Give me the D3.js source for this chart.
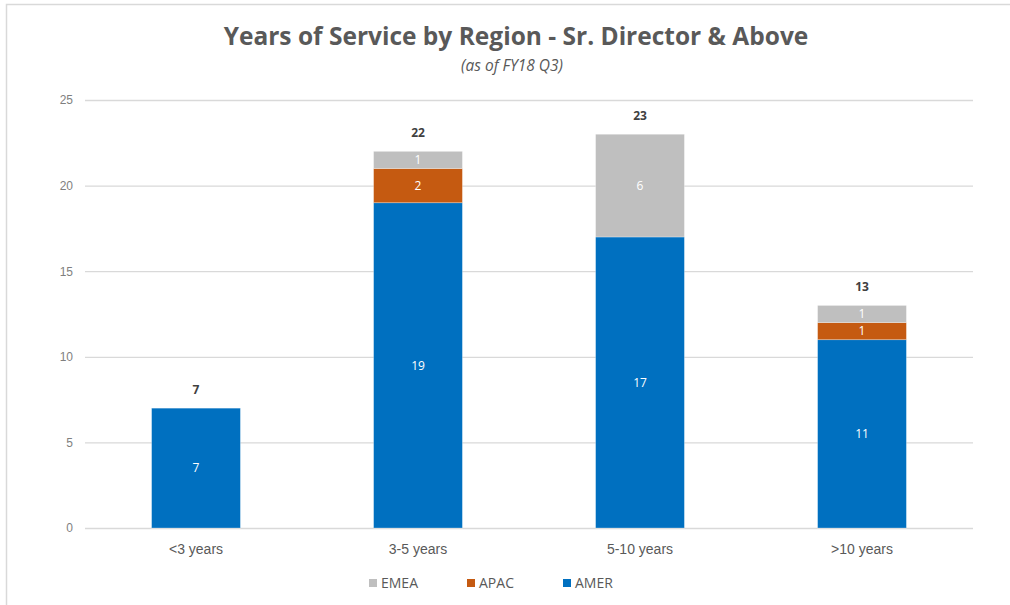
<!DOCTYPE html>
<html>
<head>
<meta charset="utf-8">
<script src="https://cdnjs.cloudflare.com/ajax/libs/d3/7.8.5/d3.min.js"></script>
<style>
  body { margin: 0; background: #fff; }
  svg { font-family: "Open Sans", "Liberation Sans", sans-serif; }
</style>
</head>
<body>
<div id="chart"></div>
<script>
// data
const categories = ["<3 years", "3-5 years", "5-10 years", ">10 years"];
const regions = ["AMER", "APAC", "EMEA"];   // stacking order, bottom to top
const amer = [7, 19, 17, 11];
const apac = [0, 2, 0, 1];
const emea = [0, 1, 6, 1];
const legendOrder = ["EMEA", "APAC", "AMER"];
const yTicks = [0, 5, 10, 15, 20, 25];

const colors = { AMER: "#0070C0", APAC: "#C55A11", EMEA: "#BFBFBF" };

const width = 1010, height = 605;
const svg = d3.select("#chart").append("svg")
    .attr("width", width)
    .attr("height", height);

// outer frame like the pasted chart area
svg.append("path")
    .attr("d", "M6.5,605 V4.5 H1010")
    .attr("fill", "none")
    .attr("stroke", "#d9d9d9")
    .attr("stroke-width", 1.5);

let rows = categories.map(function(c, i) {
    return { cat: c, AMER: amer[i], APAC: apac[i], EMEA: emea[i] };
});

let stack = d3.stack().keys(regions)(rows);

let x = d3.scaleBand()
    .domain(categories)
    .range([85, 973])
    .paddingInner(0.6)
    .paddingOuter(0.3);

let y = d3.scaleLinear()
    .domain([0, 25])
    .range([528, 100]);

// gridlines + y labels
let yAxis = d3.axisLeft(y)
    .tickValues(yTicks)
    .tickSize(-(973 - 85))
    .tickPadding(12);

let gy = svg.append("g")
    .attr("transform", "translate(85,0)")
    .call(yAxis);
gy.select(".domain").remove();
gy.selectAll(".tick line").attr("stroke", "#d9d9d9").attr("stroke-width", 1.3);
gy.selectAll(".tick text")
    .attr("fill", "#7f7f7f")
    .style("font-size", "12px");

// x labels
let xAxis = d3.axisBottom(x).tickSize(0).tickPadding(16);
let gx = svg.append("g")
    .attr("transform", "translate(0,528)")
    .call(xAxis);
gx.select(".domain").remove();
gx.selectAll(".tick text")
    .attr("fill", "#595959")
    .style("font-size", "14px");

// bars
let layers = svg.selectAll(".layer")
    .data(stack)
    .enter().append("g")
    .attr("class", "layer")
    .attr("fill", function(d) { return colors[d.key]; });

layers.selectAll("rect")
    .data(function(d) { return d; })
    .enter().append("rect")
    .attr("x", function(d) { return x(d.data.cat); })
    .attr("width", x.bandwidth())
    .attr("y", function(d) { return y(d[1]); })
    .attr("height", function(d) { return y(d[0]) - y(d[1]); })
    .attr("stroke", "#fff")
    .attr("stroke-opacity", 0.35)
    .attr("stroke-width", 0.8);

// value labels inside segments (skip empty ones)
layers.selectAll("text")
    .data(function(d) { return d.filter(function(s) { return s[1] - s[0] > 0; }); })
    .enter().append("text")
    .attr("x", function(d) { return x(d.data.cat) + x.bandwidth() / 2; })
    .attr("y", function(d) { return (y(d[0]) + y(d[1])) / 2; })
    .attr("dy", "0.35em")
    .attr("text-anchor", "middle")
    .attr("fill", "#fff")
    .style("font-size", "12px")
    .text(function(d) { return d[1] - d[0]; });

// totals above bars
svg.selectAll(".total")
    .data(rows)
    .enter().append("text")
    .attr("class", "total")
    .attr("x", function(d) { return x(d.cat) + x.bandwidth() / 2; })
    .attr("y", function(d) { return y(d.AMER + d.APAC + d.EMEA) - 14; })
    .attr("text-anchor", "middle")
    .attr("fill", "#404040")
    .style("font-size", "12px")
    .style("font-weight", "bold")
    .text(function(d) { return d.AMER + d.APAC + d.EMEA; });

// title
svg.append("text")
    .attr("x", 516)
    .attr("y", 45)
    .attr("text-anchor", "middle")
    .attr("fill", "#595959")
    .style("font-size", "24.5px")
    .style("font-weight", "bold")
    .text("Years of Service by Region - Sr. Director & Above");

svg.append("text")
    .attr("x", 512)
    .attr("y", 71)
    .attr("text-anchor", "middle")
    .attr("fill", "#595959")
    .style("font-size", "15.5px")
    .style("font-style", "italic")
    .text("(as of FY18 Q3)");

// legend
let legendX = [369, 467, 563];
let lg = svg.selectAll(".legend")
    .data(legendOrder)
    .enter().append("g")
    .attr("class", "legend")
    .attr("transform", function(d, i) { return "translate(" + legendX[i] + ",583)"; });

lg.append("rect")
    .attr("x", 0)
    .attr("y", -4)
    .attr("width", 8)
    .attr("height", 8)
    .attr("fill", function(d) { return colors[d]; });

lg.append("text")
    .attr("x", 12)
    .attr("dy", "0.35em")
    .attr("fill", "#595959")
    .style("font-size", "14px")
    .text(function(d) { return d; });
</script>
</body>
</html>
